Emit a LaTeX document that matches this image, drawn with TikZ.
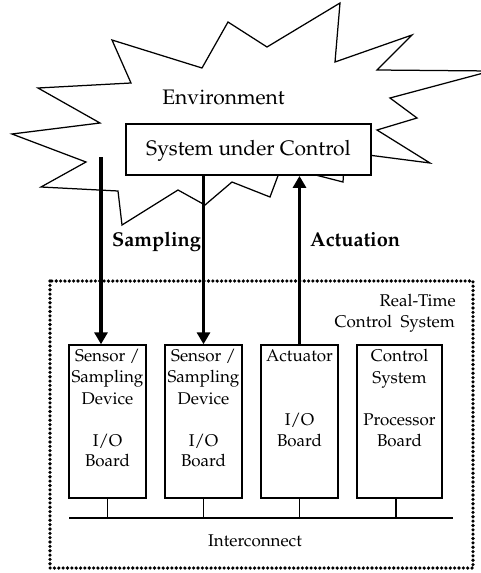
\documentclass[tikz,border=0pt]{standalone}
\usepackage[T1]{fontenc}
\usepackage{mathpazo}
\usetikzlibrary{arrows.meta}
\begin{document}
\begin{tikzpicture}[x=1pt,y=-1pt,
  burst/.style={line width=1.25pt, line join=miter},
  board/.style={draw, line width=1.4pt, minimum height=153pt, inner sep=0pt},
  lbl/.style={anchor=base, inner sep=0pt, font=\fontsize{17}{20}\selectfont},
  big/.style={anchor=base, inner sep=0pt, font=\fontsize{21}{25}\selectfont},
  flowlbl/.style={anchor=base west, inner sep=0pt, font=\fontsize{20}{24}\selectfont\bfseries},
  flow/.style={line width=3.3pt, -{Triangle[length=12pt,width=13pt]}},
  wire/.style={line width=1.3pt},
  frame/.style={line width=3.6pt, line cap=round, dash pattern=on 0pt off 4.35pt},
]
\useasboundingbox (0,0) rectangle (481,573);

% environment outline (star burst)
\draw[burst] (112,40) -- (202,68) -- (228,22) -- (267,47) -- (340,3) -- (335,62)
  -- (412,35) -- (377,70) -- (491,71) -- (390,98) -- (417,118) -- (377,130)
  -- (430,163) -- (345,152) -- (343,182) -- (300,171) -- (282,165) -- (270,197)
  -- (232,182) -- (205,205) -- (178,190) -- (122,225) -- (118,191) -- (41,187)
  -- (86,162) -- (12,134) -- (100,123) -- (38,88) -- (131,83) -- cycle;
\node[big] (env) at (223.5,104) {Environment};

% plant
\node[draw, fill=white, line width=1.8pt, minimum width=245pt, minimum height=51pt,
  inner sep=0pt] (suc) at (248.5,149.5) {};
\node[big] (suclbl) at (248.5,155) {System under Control};

% real-time control system frame
\coordinate (fTL) at (50,281);
\coordinate (fBR) at (473,568);
\draw[frame] (fTL) rectangle (fBR);
\node[lbl, anchor=base east] (rt1) at (456,306.7) {Real-Time};
\node[lbl, anchor=base east] (rt2) at (455,327.3) {Control\ \ System};

% boards
\node[board, minimum width=77pt] (b1) at (107.5,421.5) {};
\node[board, minimum width=77pt] (b2) at (203.5,421.5) {};
\node[board, minimum width=77pt] (b3) at (299.5,421.5) {};
\node[board, minimum width=85pt] (b4) at (399.5,421.5) {};

\node[lbl] (b1a) at (107.5,361.7) {Sensor /};
\node[lbl] (b1b) at (107.5,382.7) {Sampling};
\node[lbl] (b1c) at (107.5,404) {Device};
\node[lbl] (b1d) at (107.5,446) {I/O};
\node[lbl] (b1e) at (107.5,466.7) {Board};

\node[lbl] (b2a) at (203.5,361.7) {Sensor /};
\node[lbl] (b2b) at (203.5,382.7) {Sampling};
\node[lbl] (b2c) at (203.5,404) {Device};
\node[lbl] (b2d) at (203.5,446) {I/O};
\node[lbl] (b2e) at (203.5,466.7) {Board};

\node[lbl] (b3a) at (299.5,361.7) {Actuator};
\node[lbl] (b3b) at (299.5,425.5) {I/O};
\node[lbl] (b3c) at (299.5,446) {Board};

\node[lbl] (b4a) at (399.5,361.7) {Control};
\node[lbl] (b4b) at (399.5,383) {System};
\node[lbl] (b4c) at (399.5,425.5) {Processor};
\node[lbl] (b4d) at (399.5,446) {Board};

% interconnect bus
\coordinate (busL) at (69,518);
\coordinate (busR) at (453,518);
\draw[wire] (busL) -- (busR);
\draw[wire] (b1.south) -- (b1.south |- busL);
\draw[wire] (b2.south) -- (b2.south |- busL);
\draw[wire] (b3.south) -- (b3.south |- busL);
\draw[wire] ([xshift=-3.5pt]b4.south) -- ([xshift=-3.5pt]b4.south |- busL);
\node[lbl] (ic) at (255,546) {Interconnect};

% sampling and actuation
\coordinate (s1) at (101,157);
\draw[flow] (s1) -- (s1 |- b1.north);
\draw[flow] (b2.north |- suc.south) -- (b2.north);
\draw[flow] (b3.north) -- (b3.north |- suc.south);
\node[flowlbl] (samp) at (112,246.7) {Sampling};
\node[flowlbl] (act) at (310,246.7) {Actuation};
\end{tikzpicture}
\end{document}
